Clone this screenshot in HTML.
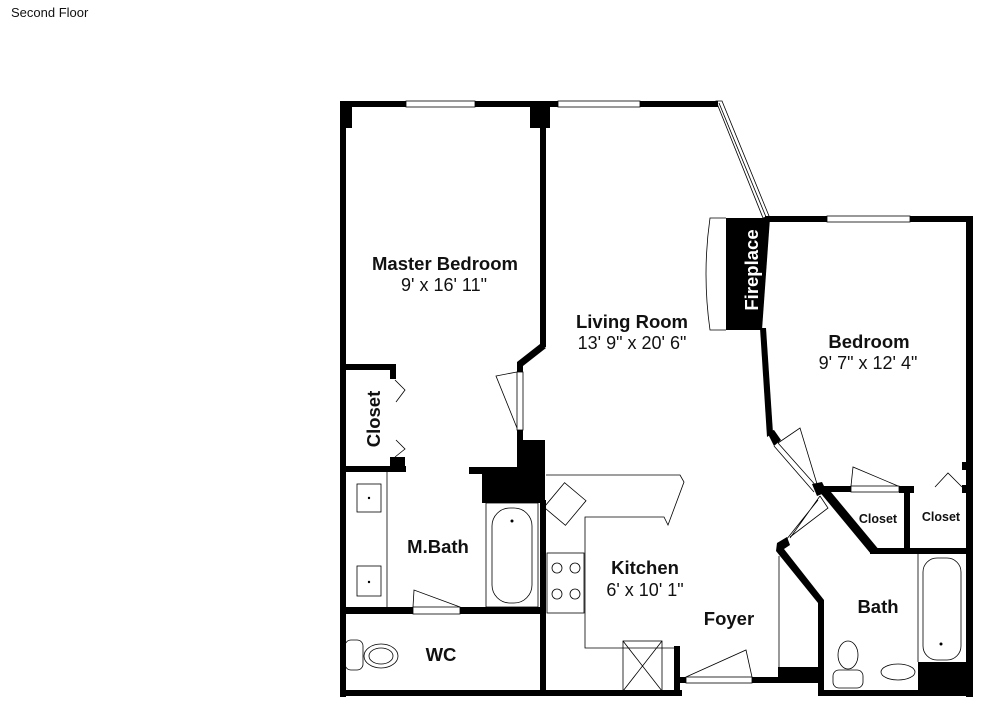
<!DOCTYPE html>
<html><head><meta charset="utf-8"><style>
html,body{margin:0;padding:0;background:#fff;}
svg{display:block;}
text{font-family:"Liberation Sans",Arial,sans-serif;fill:#111;}
.b{font-weight:bold;font-size:18.5px;}
.d{font-size:18px;}
</style></head><body>
<svg width="1000" height="718" viewBox="0 0 1000 718" xmlns="http://www.w3.org/2000/svg">
<text x="11" y="17" font-size="13">Second Floor</text>
<g fill="#000" stroke="none">
<rect x="340" y="101" width="66" height="6"/>
<rect x="475" y="101" width="83" height="6"/>
<rect x="640" y="101" width="78" height="6"/>
<rect x="340" y="101" width="12" height="27"/>
<rect x="530" y="101" width="20" height="27"/>
<rect x="340" y="101" width="6" height="596"/>
<rect x="340" y="690" width="342" height="6"/>
<rect x="820" y="690" width="153" height="6"/>
<rect x="540" y="107" width="6" height="240"/>
<polygon points="540,344 546,348 523,366 523,372 517,372 517,362"/>
<rect x="517" y="430" width="6" height="12"/>
<rect x="517" y="440" width="28" height="62"/>
<rect x="469" y="467" width="76" height="7"/>
<rect x="482" y="467" width="63" height="36"/>
<rect x="540" y="500" width="6" height="196"/>
<rect x="340" y="364" width="56" height="6"/>
<rect x="390" y="364" width="6" height="15"/>
<rect x="390" y="457" width="15" height="14"/>
<rect x="340" y="466" width="66" height="6"/>
<rect x="340" y="607" width="73" height="7"/>
<rect x="460" y="607" width="86" height="7"/>
<rect x="765" y="216" width="62" height="6"/>
<rect x="910" y="216" width="63" height="6"/>
<rect x="966" y="216" width="7" height="481"/>
<polygon points="726,218 770,218 762,330 726,330"/>
<polygon points="760,328 766,328 773,433 767,437"/>
<polygon points="767,432 774,430 781,440 774,446"/>
<polygon points="812,484 822,482 827,492 817,496"/>
<rect x="818" y="486" width="33" height="6"/>
<rect x="899" y="486" width="15" height="7"/>
<rect x="904" y="486" width="6" height="68"/>
<rect x="870" y="548" width="103" height="6"/>
<rect x="962" y="462" width="5" height="8"/>
<rect x="962" y="485" width="5" height="8"/>
<polygon points="818,490 826,486 880,551 871,554"/>
<polygon points="777,543 787,537 790,545 784,549 824,600 824,696 818,696 818,603 776,551"/>
<rect x="918" y="662" width="55" height="34"/>
<rect x="778" y="667" width="44" height="16"/>
<rect x="752" y="677" width="30" height="6"/>
<rect x="674" y="646" width="6" height="50"/>
<rect x="674" y="677" width="12" height="6"/>
</g>
<g fill="none" stroke="#000" stroke-width="0.8">
<rect x="406" y="101" width="69" height="6"/>
<rect x="558" y="101" width="82" height="6"/>
<rect x="827" y="216" width="83" height="6"/>
<polygon points="716,101 722,101 769,216 763,218"/>
<line x1="719" y1="103" x2="766" y2="217"/>
<path d="M726,218 L710,218 Q702,274 710,330 L726,330"/>
<rect x="517" y="372" width="6" height="58"/>
<path d="M517,372 L496,376 L517,428"/>
<path d="M395,380 L405,390 L396,402"/>
<path d="M396,440 L405,449 L395,457"/>
<line x1="387" y1="472" x2="387" y2="607"/>
<rect x="357" y="484" width="24" height="28"/>
<rect x="357" y="566" width="24" height="30"/>
<rect x="486" y="503" width="52" height="104"/>
<rect x="492" y="508" width="40" height="95" rx="18"/>
<rect x="413" y="607" width="47" height="7"/>
<path d="M413,607 L414,590 L460,607"/>
<rect x="345" y="640" width="18" height="30" rx="6"/>
<ellipse cx="381" cy="656" rx="17" ry="12"/>
<ellipse cx="381" cy="656" rx="12" ry="8"/>
<path d="M546,475 L680,475 L684,482 L668,525 L664,517 L585,517 L585,648 L674,648"/>
<rect x="551" y="488" width="28" height="32" transform="rotate(40 565 504)"/>
<rect x="547" y="553" width="37" height="60"/>
<circle cx="557" cy="568" r="5"/><circle cx="575" cy="568" r="5"/>
<circle cx="557" cy="594" r="5"/><circle cx="575" cy="594" r="5"/>
<rect x="623" y="641" width="39" height="50"/>
<path d="M623,641 L662,691 M662,641 L623,691"/>
<rect x="686" y="677" width="66" height="6"/>
<path d="M686,677 L746,650 L752,677"/>
<line x1="779" y1="556" x2="779" y2="667"/>
<path d="M778,443 L818,488 M774,446 L814,492"/>
<path d="M778,443 L800,428 L817,484"/>
<rect x="851" y="486" width="48" height="6"/>
<path d="M851,486 L853,467 L898,486"/>
<path d="M935,487 L948,473 L962,487"/>
<path d="M790,538 L820,496 M786,540 L818,500"/>
<path d="M820,496 L828,508 L790,537"/>
<line x1="918" y1="554" x2="918" y2="662"/>
<rect x="923" y="558" width="38" height="102" rx="14"/>
<ellipse cx="848" cy="655" rx="10" ry="14"/>
<rect x="833" y="670" width="30" height="18" rx="6"/>
<ellipse cx="898" cy="672" rx="17" ry="8"/>
</g>
<g fill="#000">
<circle cx="512" cy="521" r="1.5"/><circle cx="941" cy="644" r="1.5"/>
<circle cx="369" cy="498" r="1.2"/><circle cx="369" cy="582" r="1.2"/>
</g>
<text class="b" x="445" y="270" text-anchor="middle">Master Bedroom</text>
<text class="d" x="444" y="291" text-anchor="middle">9' x 16' 11"</text>
<text class="b" x="632" y="328" text-anchor="middle">Living Room</text>
<text class="d" x="632" y="349" text-anchor="middle">13' 9" x 20' 6"</text>
<text class="b" x="869" y="348" text-anchor="middle">Bedroom</text>
<text class="d" x="868" y="369" text-anchor="middle">9' 7" x 12' 4"</text>
<text class="b" x="752" y="270" text-anchor="middle" style="fill:#fff" transform="rotate(-90 752 270)" dy="6">Fireplace</text>
<text class="b" x="374" y="419" text-anchor="middle" transform="rotate(-90 374 419)" dy="6">Closet</text>
<text class="b" x="438" y="553" text-anchor="middle">M.Bath</text>
<text class="b" x="645" y="574" text-anchor="middle">Kitchen</text>
<text class="d" x="645" y="596" text-anchor="middle">6' x 10' 1"</text>
<text class="b" x="729" y="625" text-anchor="middle">Foyer</text>
<text class="b" x="441" y="661" text-anchor="middle">WC</text>
<text class="b" x="878" y="613" text-anchor="middle">Bath</text>
<text x="878" y="523" text-anchor="middle" font-size="12.5" font-weight="bold">Closet</text>
<text x="941" y="521" text-anchor="middle" font-size="12.5" font-weight="bold">Closet</text>
</svg>
</body></html>
